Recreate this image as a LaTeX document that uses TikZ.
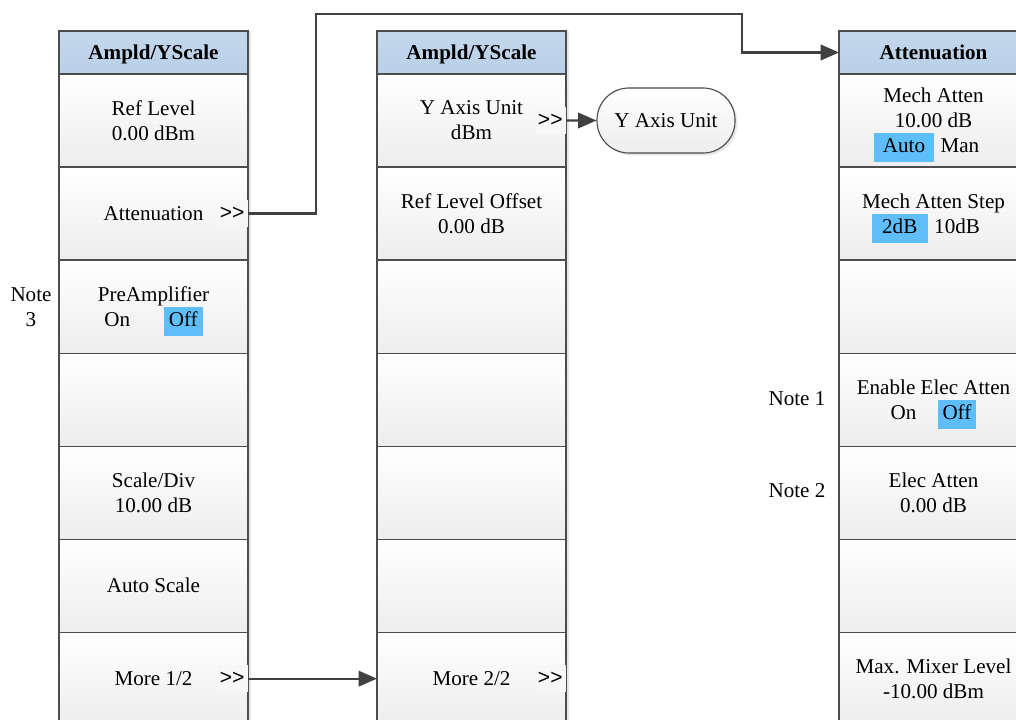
\documentclass[tikz,border=0pt]{standalone}
\usepackage{fontspec}
\setmainfont{Liberation Serif}
\newfontfamily\arrowfont{Liberation Sans}
\usepackage{tikz}
\usetikzlibrary{positioning,arrows.meta,shadows}
\definecolor{headblue}{RGB}{185,208,232}
\definecolor{pickblue}{RGB}{94,190,250}
\definecolor{linegray}{RGB}{64,64,64}
% selected choice in a soft key
\newcommand{\picked}[2][3pt]{{\setlength{\fboxsep}{1.5pt}\smash{\colorbox{pickblue}{\hspace{#1}\strut #2\hspace{#1}}}}}

\begin{document}
\begin{tikzpicture}[x=0.025cm, y=-0.025cm,
    every node/.style={font=\fontsize{15}{17.8}\selectfont},
    cell/.style={draw=black!70, line width=0.8pt, top color=white, bottom color=black!7,
      minimum width=4.725cm, minimum height=2.325cm, inner sep=0pt, outer sep=0pt,
      align=center, drop shadow={shadow xshift=0.08cm, shadow yshift=0cm, opacity=0.2}},
    head/.style={cell, top color=headblue!85, bottom color=headblue, minimum height=1.075cm,
      text height=12pt, text depth=2pt, font=\fontsize{15}{17.8}\selectfont\bfseries},
    go/.style={fill=black!3, minimum width=0.775cm, minimum height=0.675cm, inner sep=0pt,
      anchor=east, font=\arrowfont\fontsize{15}{17.8}\selectfont},
    conn/.style={draw=linegray, line width=1.5pt, -{Triangle[length=13pt,width=11pt]}}]
    \clip (0,0) rectangle (1016,720);

    % first page of Ampld/YScale
    \node[head] (m1head) at (153.5,52.5) {Ampld/YScale};
    \node[cell, below=0pt of m1head] (m1ref) {Ref Level\\0.00 dBm};
    \node[cell, below=0pt of m1ref] (m1att) {Attenuation};
    \node[cell, below=0pt of m1att] (m1pre) {PreAmplifier\\On\hspace{1.6em}\picked[2pt]{Off}};
    \node[cell, below=0pt of m1pre] (m1e1) {};
    \node[cell, below=0pt of m1e1] (m1scale) {Scale/Div\\10.00 dB};
    \node[cell, below=0pt of m1scale] (m1auto) {Auto Scale};
    \node[cell, below=0pt of m1auto] (m1more) {More 1/2};
    \node[go] (m1attgo) at (m1att.east) {>>};
    \node[go] (m1morego) at (m1more.east) {>>};
    \node[align=center] (note3) at (31,307) {Note\\3};

    % second page of Ampld/YScale
    \node[head] (m2head) at (471.5,52.5) {Ampld/YScale};
    \node[cell, below=0pt of m2head] (m2unit) {Y Axis Unit\\dBm};
    \node[cell, below=0pt of m2unit] (m2off) {Ref Level Offset\\0.00 dB};
    \node[cell, below=0pt of m2off] (m2e1) {};
    \node[cell, below=0pt of m2e1] (m2e2) {};
    \node[cell, below=0pt of m2e2] (m2e3) {};
    \node[cell, below=0pt of m2e3] (m2e4) {};
    \node[cell, below=0pt of m2e4] (m2more) {More 2/2};
    \node[go] (m2unitgo) at (m2unit.east) {>>};
    \node[go] (m2morego) at (m2more.east) {>>};
    \node[draw=black!70, line width=0.8pt, top color=white, bottom color=black!7,
      rounded corners=0.8cm, minimum width=3.45cm, minimum height=1.625cm,
      drop shadow={shadow xshift=0.06cm, shadow yshift=-0.06cm, opacity=0.2}]
      (yunit) at (666,120.5) {Y Axis Unit};

    % Attenuation menu
    \node[head] (m3head) at (933.5,52.5) {Attenuation};
    \node[cell, below=0pt of m3head] (m3mech) {Mech Atten\\10.00 dB\\\picked[5pt]{Auto}\hspace{0.3em}Man\kern10pt};
    \node[cell, below=0pt of m3mech] (m3step) {Mech Atten Step\\\picked[6pt]{2dB}\hspace{0.3em}10dB\kern11pt};
    \node[cell, below=0pt of m3step] (m3e1) {};
    \node[cell, below=0pt of m3e1] (m3elec) {Enable Elec Atten\\On\hspace{1em}\picked[2pt]{Off}};
    \node[cell, below=0pt of m3elec] (m3eatt) {Elec Atten\\0.00 dB};
    \node[cell, below=0pt of m3eatt] (m3e2) {};
    \node[cell, below=0pt of m3e2] (m3mix) {Max. Mixer Level\\-10.00 dBm};
    \node (note1) at (797,399) {Note 1};
    \node (note2) at (797,491) {Note 2};

    \coordinate (up1) at (316,14);
    \coordinate (up2) at (742,14);
    \draw[conn] (m1attgo.east) -| (up1) -- (up2) |- (m3head.west);
    \draw[conn] (m2unitgo.east) -- (yunit.west);
    \draw[conn] (m1morego.east) -- (m2more.west);
  \end{tikzpicture}
\end{document}
